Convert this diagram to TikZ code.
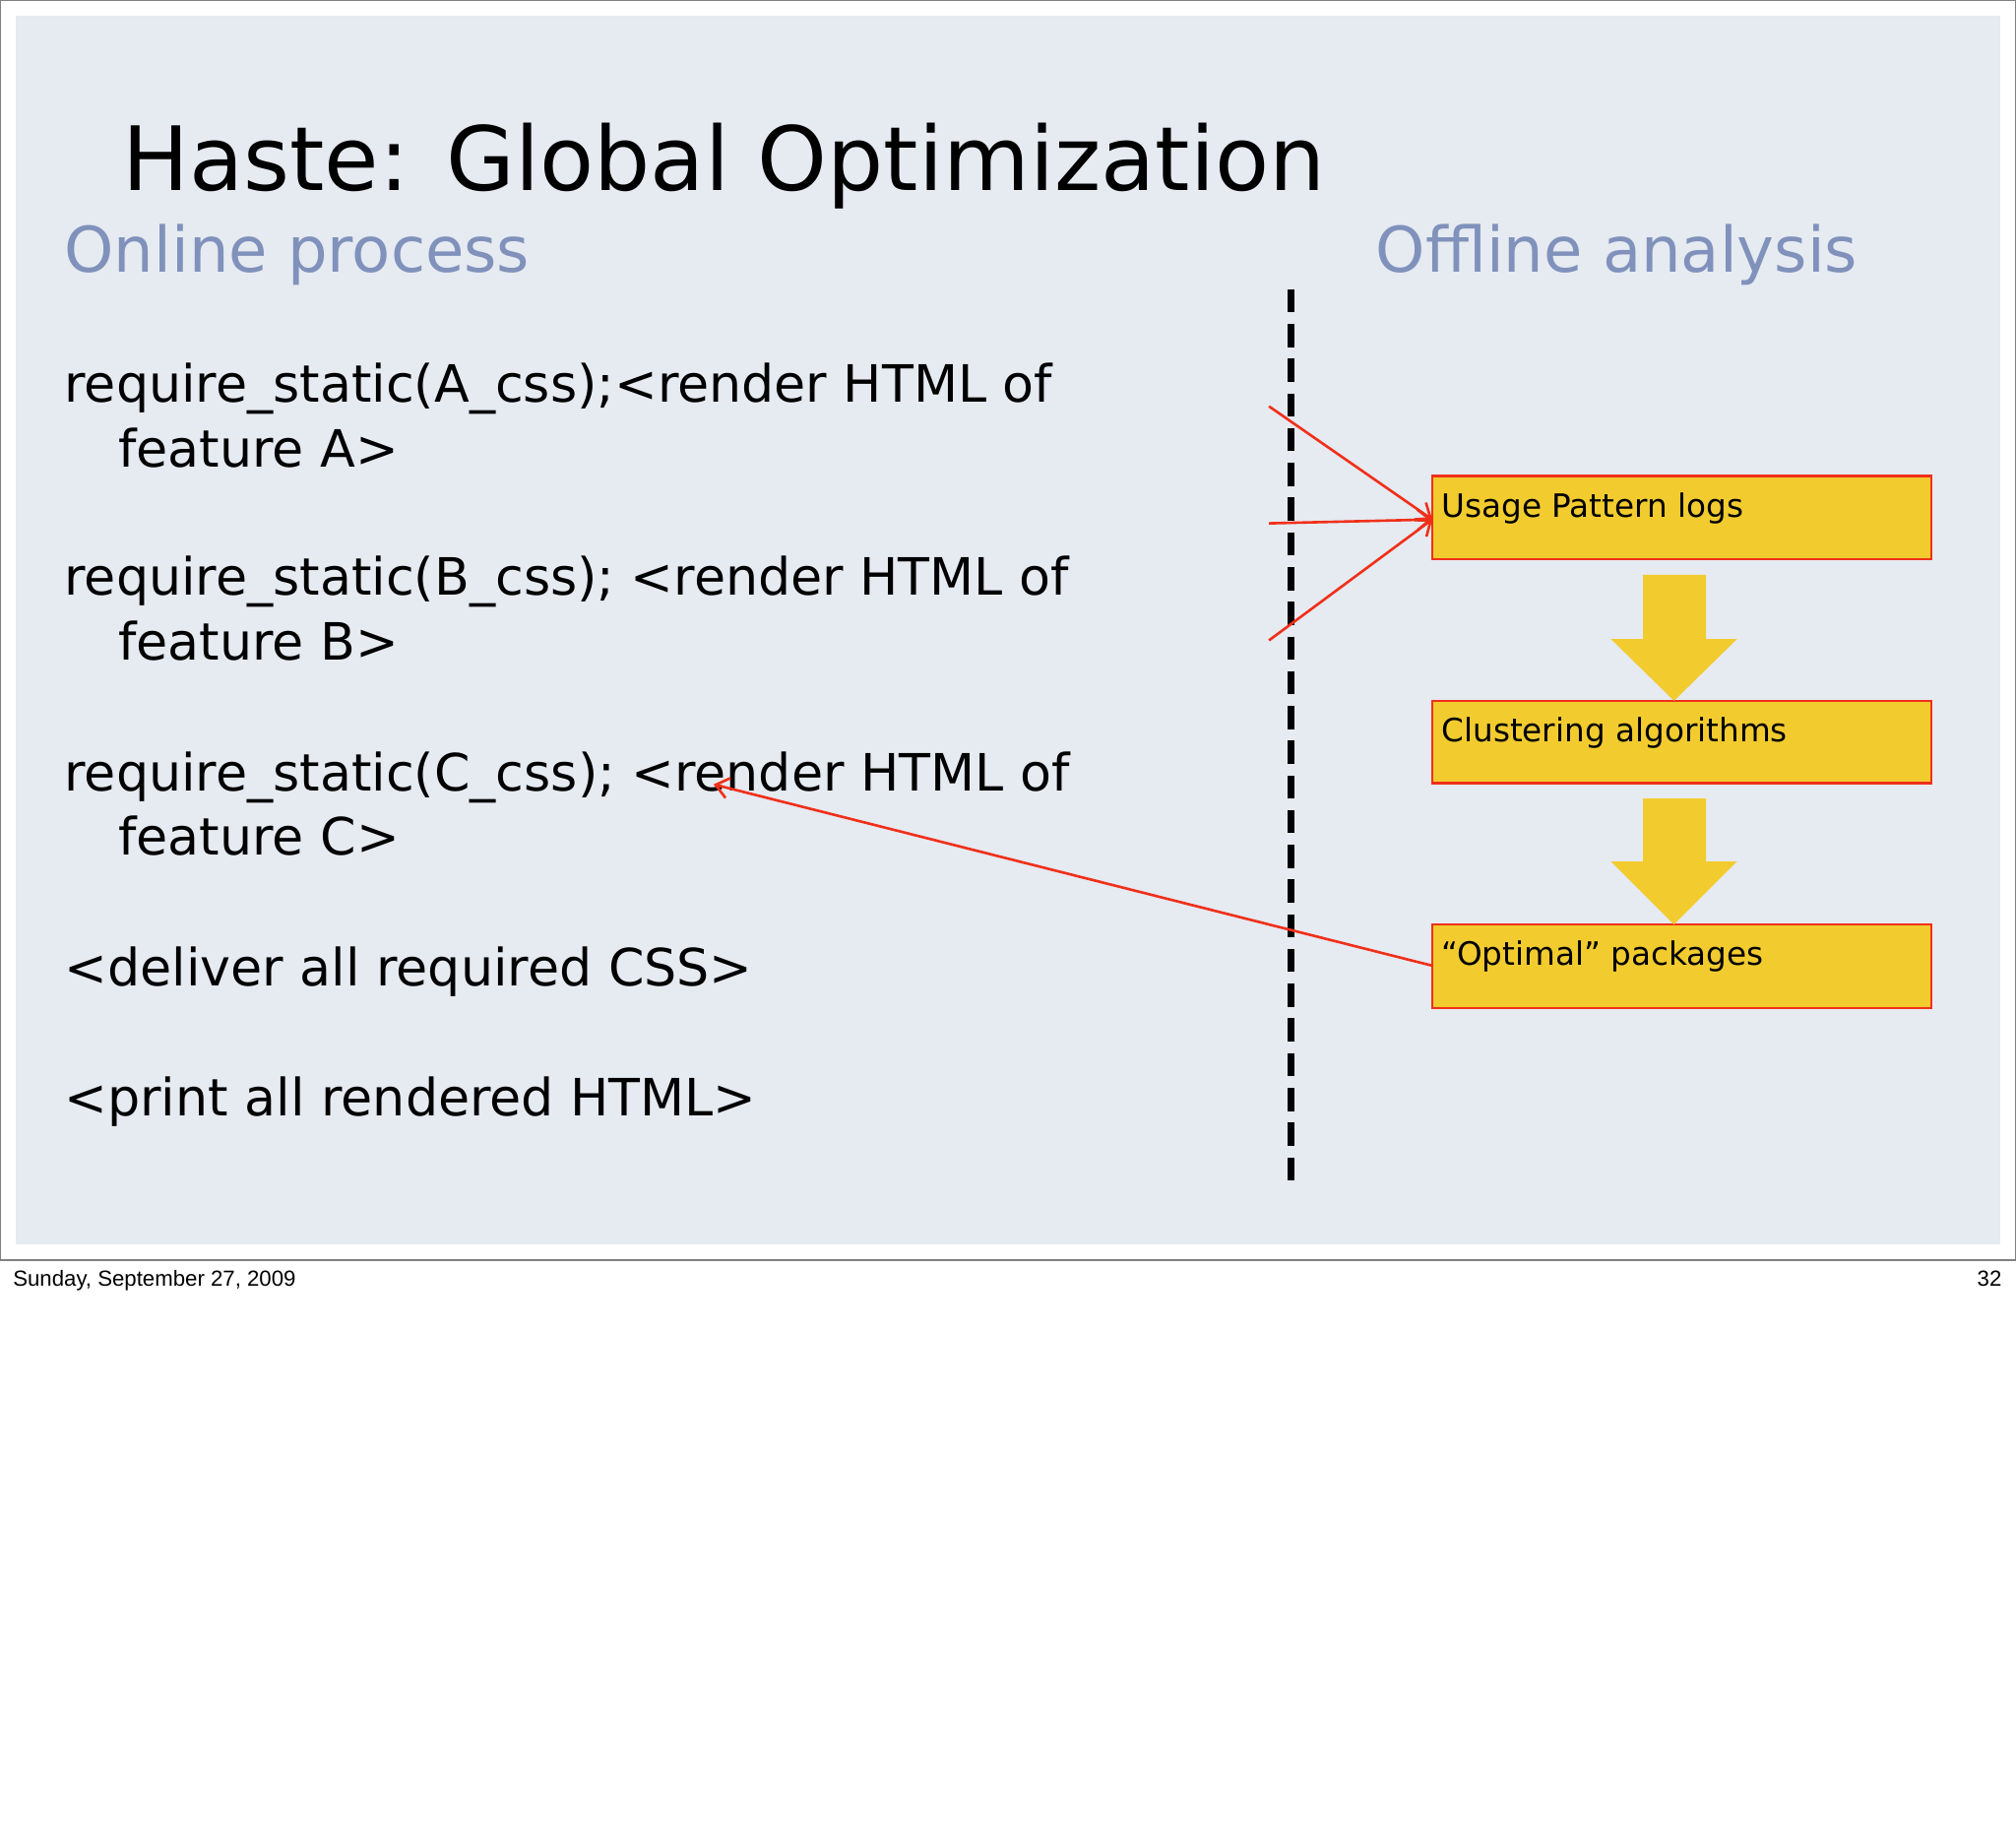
\documentclass[tikz,border=0pt]{standalone}
\usepackage{fontspec}
\setmainfont{DejaVu Sans}
\newfontfamily\foot{Liberation Sans}
\usetikzlibrary{arrows.meta}
\definecolor{slidebg}{HTML}{E6EAF1}
\definecolor{subcol}{HTML}{8092BB}
\definecolor{boxfill}{HTML}{F2CB2F}
\definecolor{redline}{HTML}{F0301A}
\tikzset{
 body/.style={anchor=base west,inner sep=0pt,font=\fontsize{40}{40}\selectfont},
 sub/.style={anchor=base west,inner sep=0pt,text=subcol,font=\fontsize{49}{49}\selectfont},
 stage/.style={draw=redline,line width=2pt,fill=boxfill},
 stagetext/.style={anchor=base west,inner sep=0pt,font=\fontsize{25}{25}\selectfont},
 redarrow/.style={draw=redline,line width=2pt,-{Straight Barb[length=10pt,width=16pt]}},
 blockarrow/.style={fill=boxfill,draw=none}
}
\begin{document}
\begin{tikzpicture}[x=1pt,y=-1pt]
\useasboundingbox (0,0) rectangle (1568,1428);
\fill[white] (0,0) rectangle (1568,1428);
\draw[gray,line width=1pt] (0.5,0.5) rectangle (1567.5,980);
\fill[slidebg] (12,12) rectangle (1556,968);
\node[anchor=base west,inner sep=0pt,font=\fontsize{69}{69}\selectfont] (title) at (95,148) {Haste: Global Optimization};
\node[sub] (online) at (50,212) {Online process};
\node[sub] (offline) at (1070,212) {Offline analysis};
\node[body] (a1) at (50,313) {require\_static(A\_css);<render HTML of};
\node[body] (a2) at (92,363) {feature A>};
\node[body] (b1) at (50,463) {require\_static(B\_css); <render HTML of};
\node[body] (b2) at (92,513) {feature B>};
\node[body] (c1) at (50,615) {require\_static(C\_css); <render HTML of};
\node[body] (c2) at (92,665) {feature C>};
\node[body] (d) at (50,767) {<deliver all required CSS>};
\node[body] (e) at (50,868) {<print all rendered HTML>};
\coordinate (dtop) at (1004,225);
\coordinate (dbot) at (1004,920);
\draw[line width=5pt,dash pattern=on 18pt off 9pt] (dtop) -- (dbot);
% boxes
\draw[stage] (1114,370) rectangle (1502,435);
\draw[stage] (1114,545) rectangle (1502,609);
\draw[stage] (1114,719) rectangle (1502,784);
\coordinate (usage) at (1114,404);
\coordinate (opt) at (1114,751);
\node[stagetext] (t1) at (1121,402) {Usage Pattern logs};
\node[stagetext] (t2) at (1121,577) {Clustering algorithms};
\node[stagetext] (t3) at (1121,751) {“Optimal” packages};
% block arrows
\fill[blockarrow] (1278,447) -- (1327,447) -- (1327,497) -- (1351,497) -- (1302,545) -- (1253,497) -- (1278,497) -- cycle;
\fill[blockarrow] (1278,621) -- (1327,621) -- (1327,670) -- (1351,670) -- (1302,719) -- (1253,670) -- (1278,670) -- cycle;
% red arrows
\coordinate (s1) at (987,316);
\coordinate (s2) at (987,407);
\coordinate (s3) at (987,498);
\coordinate (ctarget) at (555,610);
\draw[redarrow] (s1) -- (usage);
\draw[redarrow] (s2) -- (usage);
\draw[redarrow] (s3) -- (usage);
\draw[redarrow] (opt) -- (ctarget);
\node[anchor=base west,inner sep=0pt,font=\foot\fontsize{17}{17}\selectfont] (date) at (10,1000) {Sunday, September 27, 2009};
\node[anchor=base east,inner sep=0pt,font=\foot\fontsize{17}{17}\selectfont] (page) at (1557,1000) {32};
\end{tikzpicture}
\end{document}
